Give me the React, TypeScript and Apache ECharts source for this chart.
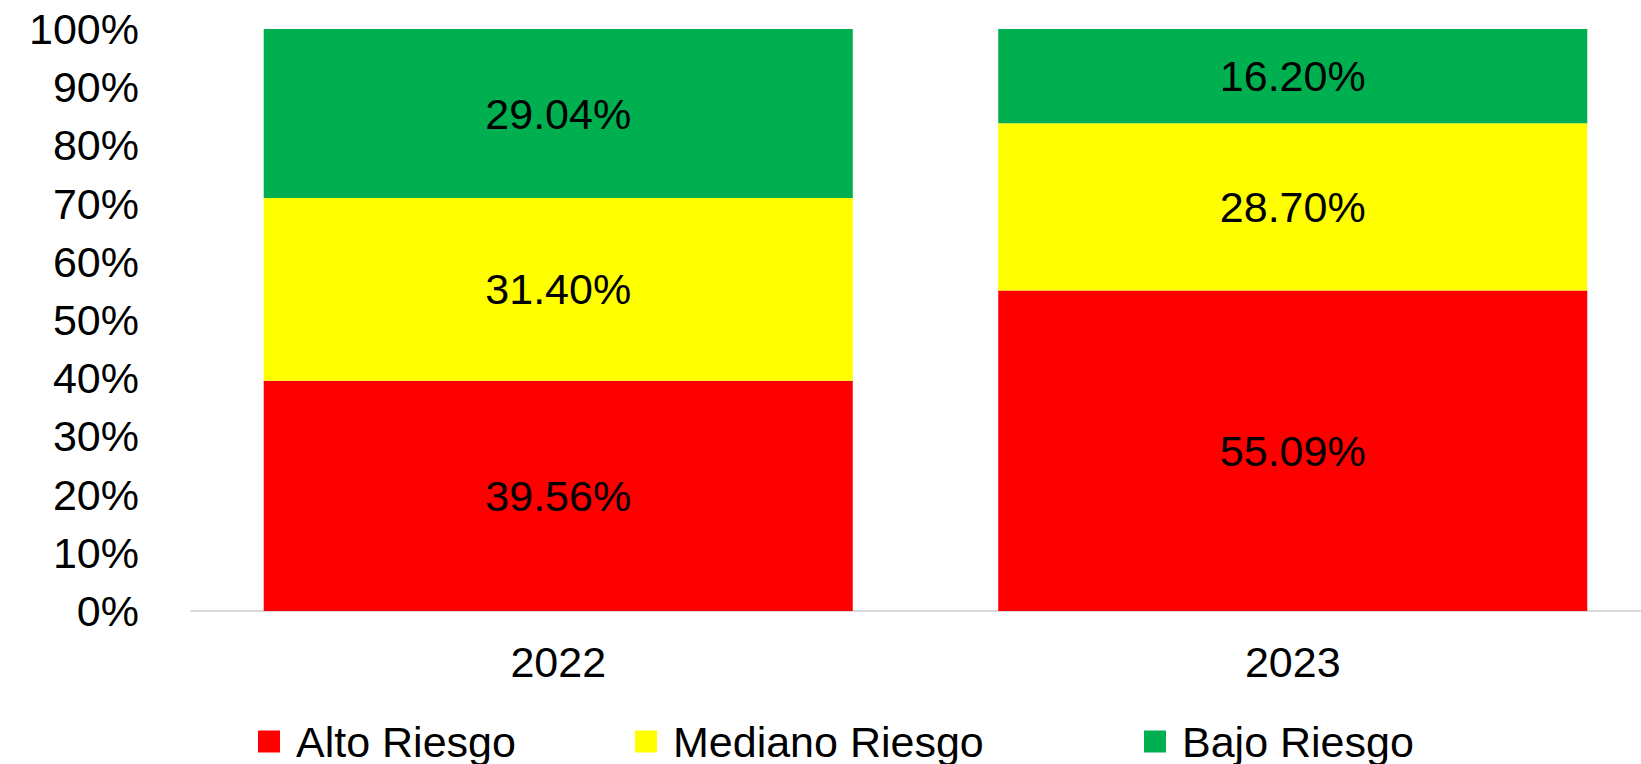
import React, { useEffect, useRef } from 'react';
import * as echarts from 'echarts';

const categories = ['2022', '2023'];
const seriesNames = ['Alto Riesgo', 'Mediano Riesgo', 'Bajo Riesgo'];
const altoRiesgo = [39.56, 55.09];
const medianoRiesgo = [31.4, 28.7];
const bajoRiesgo = [29.04, 16.2];
const seriesColors = ['#FF0000', '#FFFF00', '#00B050'];
const legendLefts = [258, 635, 1144];

const FONT = 'Liberation Sans';
const FS = 43;

export default function App() {
  const ref = useRef<HTMLDivElement>(null);
  useEffect(() => {
    if (!ref.current) return;
    const chart = echarts.init(ref.current, null, { renderer: 'svg' });
    const values = [altoRiesgo, medianoRiesgo, bajoRiesgo];
    chart.setOption({
      animation: false,
      backgroundColor: '#ffffff',
      textStyle: { fontFamily: FONT },
      grid: {
        left: 191,
        width: 1469,
        top: 29,
        height: 582,
        containLabel: false,
        outerBoundsMode: 'none',
      },
      legend: seriesNames.map((n, i) => ({
        data: [n],
        left: legendLefts[i],
        top: 720,
        padding: 0,
        itemWidth: 22,
        itemHeight: 22,
        icon: 'rect',
        selectedMode: false,
        textStyle: { fontFamily: FONT, fontSize: FS, color: '#000', padding: [0, 0, 0, 11] },
      })),
      xAxis: {
        type: 'category',
        data: categories,
        axisLine: { show: true, lineStyle: { color: '#D9D9D9', width: 2 } },
        axisTick: { show: false },
        axisLabel: { fontFamily: FONT, fontSize: FS, color: '#000', margin: 29 },
      },
      yAxis: {
        type: 'value',
        min: 0,
        max: 100,
        interval: 10,
        axisLine: { show: false },
        axisTick: { show: false },
        splitLine: { show: false },
        axisLabel: { fontFamily: FONT, fontSize: FS, color: '#000', margin: 52, formatter: '{value}%' },
      },
      series: seriesNames.map((n, i) => ({
        name: n,
        type: 'bar',
        stack: 'total',
        barWidth: '80.2%',
        data: values[i],
        itemStyle: { color: seriesColors[i] },
        label: {
          show: true,
          position: 'inside',
          fontFamily: FONT,
          fontSize: FS,
          color: '#000',
          formatter: (p: any) => p.value.toFixed(2) + '%',
        },
      })),
    });
    return () => chart.dispose();
  }, []);
  return (
    <div
      ref={ref}
      style={{ position: 'absolute', left: 0, top: 0, width: 1641, height: 764 }}
    />
  );
}
